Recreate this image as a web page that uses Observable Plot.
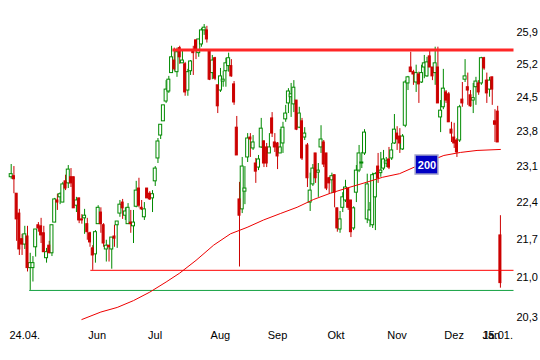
<!DOCTYPE html>
<html><head><meta charset="utf-8">
<script src="https://cdn.jsdelivr.net/npm/d3@7"></script>
<script src="https://cdn.jsdelivr.net/npm/@observablehq/plot@0.6"></script>
<style>html,body{margin:0;padding:0;background:#fff}</style>
</head><body><div id="chart"></div>
<script>
// Daily candles (index 0 = 24.04., last = 15.01.)
const open = [
22.88,22.90,22.56,22.18,21.70,21.60,21.75,21.17,21.17,21.55,
21.96,21.94,21.81,21.35,21.58,21.44,22.01,22.43,22.49,22.39,
22.80,22.76,22.88,22.88,22.33,22.47,22.07,22.09,21.98,21.81,
21.53,21.42,21.98,22.20,21.96,21.51,21.58,21.51,21.75,21.96,
22.18,22.39,22.14,21.98,22.01,21.94,22.31,22.66,22.29,22.11,
22.66,22.56,22.47,22.80,23.25,23.71,24.00,24.41,24.62,25.01,
25.28,25.03,25.55,25.22,25.20,24.64,25.05,25.50,25.72,25.44,
25.63,25.94,25.94,25.50,25.01,25.33,24.75,24.64,24.83,25.05,
25.16,25.16,24.77,23.87,22.45,22.26,22.60,23.27,23.67,23.45,
23.15,23.07,23.47,23.59,23.47,23.35,24.06,23.57,23.55,23.35,
23.55,24.04,24.37,24.50,24.35,24.43,23.87,24.00,23.67,23.51,
22.39,22.74,23.35,22.97,23.47,23.57,23.35,22.86,22.82,22.92,
22.28,21.88,22.29,22.43,22.66,22.43,21.90,22.58,23.01,23.15,
23.35,22.07,22.05,21.96,22.49,23.09,22.96,23.05,23.15,23.23,
23.25,23.55,23.75,23.69,23.43,23.91,24.79,25.13,25.03,24.81,
24.98,24.81,25.13,24.94,25.37,25.13,25.01,25.13,24.08,24.29,
24.60,24.56,23.83,23.67,23.61,23.61,24.45,24.87,24.71,24.54,
24.43,24.71,24.79,24.79,25.33,24.85,24.66,24.92,24.00,24.20,
21.77];
const close = [
22.94,22.84,22.07,21.51,21.60,21.79,21.17,21.26,21.26,21.88,
21.90,21.77,21.46,21.46,21.44,21.96,22.45,22.39,22.55,22.74,
22.66,23.03,22.76,22.28,22.43,22.05,22.05,22.14,21.83,21.64,
21.40,21.83,22.29,21.98,21.62,21.58,21.55,21.73,21.71,22.03,
22.35,22.28,22.22,22.29,21.98,22.01,22.62,22.33,22.26,22.26,
22.47,22.45,22.55,23.05,23.59,23.93,24.33,24.66,24.87,25.35,
25.09,25.46,25.35,25.28,24.60,25.03,25.26,25.44,25.50,25.74,
25.94,26.00,25.74,24.87,25.28,24.89,24.31,24.94,24.87,25.22,
25.33,24.94,24.39,23.31,22.14,23.09,22.66,23.65,23.63,23.57,
22.99,23.23,23.85,23.15,23.15,23.47,23.75,23.47,23.29,23.47,
23.87,24.16,24.62,24.56,24.70,23.83,24.16,23.25,23.75,22.86,
22.62,23.05,22.86,23.01,23.63,23.13,22.66,22.76,22.90,22.58,
21.90,22.07,22.49,22.68,22.29,21.83,22.28,23.01,23.35,23.17,
23.77,22.74,22.24,22.92,22.94,22.86,23.01,23.23,23.19,23.07,
23.41,23.83,23.63,23.55,23.69,24.81,24.92,25.03,24.98,25.01,
24.77,25.01,25.22,25.24,25.13,24.94,25.22,24.37,24.22,24.68,
24.43,23.98,23.75,23.55,23.37,24.29,24.37,24.94,24.64,24.31,
24.48,24.83,24.60,25.33,25.11,24.58,24.85,24.66,23.93,23.57,
20.90];
const high = [
23.13,23.09,22.56,22.26,21.79,21.94,21.94,21.44,21.38,21.88,
22.01,22.09,21.94,21.53,21.66,21.96,22.47,22.55,22.58,22.78,
22.92,23.11,23.05,22.88,22.49,22.47,22.16,22.26,22.09,21.83,
21.58,21.86,22.33,22.29,21.99,21.68,21.58,21.73,21.96,22.03,
22.43,22.45,22.29,22.37,22.24,22.24,22.80,22.86,22.43,22.39,
22.66,22.60,22.62,23.09,23.65,23.93,24.33,24.85,24.94,25.59,
25.55,25.55,25.59,25.50,25.24,25.09,25.28,25.59,25.72,25.74,
25.98,26.07,26.03,25.50,25.39,25.35,24.75,25.11,25.05,25.33,
25.44,25.30,24.83,24.10,22.78,23.27,23.09,23.75,23.75,23.71,
23.25,23.31,24.06,23.61,23.55,23.75,24.18,23.75,23.57,23.83,
23.98,24.33,24.68,24.79,24.85,24.43,24.29,24.06,23.87,23.55,
22.96,23.13,23.35,23.15,23.91,23.61,23.35,22.88,22.96,22.92,
22.28,22.22,22.58,22.82,22.66,22.43,22.31,23.11,23.51,23.37,
23.83,22.94,22.39,22.96,22.97,23.35,23.37,23.41,23.27,23.47,
23.55,24.14,23.89,23.85,23.73,24.85,24.94,25.46,25.07,25.18,
25.03,25.18,25.39,25.35,25.48,25.13,25.57,25.57,24.43,25.09,
24.64,24.60,23.98,23.96,23.65,24.33,24.81,25.30,25.01,24.64,
24.79,24.92,24.85,25.35,25.35,25.01,24.92,24.92,24.24,24.31,
22.14];
const low = [
22.84,22.56,21.66,21.40,21.40,21.51,21.10,20.77,20.92,21.37,
21.83,21.62,21.46,21.26,21.44,21.38,22.01,22.24,22.35,22.39,
22.62,22.66,22.68,22.28,22.20,21.99,21.98,21.79,21.68,21.55,
21.13,21.26,21.98,21.81,21.55,21.28,21.28,21.15,21.55,21.53,
22.11,22.07,22.05,21.98,21.81,21.62,22.29,22.29,22.24,22.05,
22.47,22.43,22.20,22.70,23.15,23.63,24.00,24.37,24.58,25.01,
25.05,24.92,25.20,25.22,24.52,24.52,24.96,24.96,25.30,25.35,
25.57,25.83,25.66,24.85,24.87,24.85,24.16,24.60,24.71,24.71,
25.03,24.92,24.33,23.31,21.19,22.18,22.35,23.17,23.27,23.41,
22.76,23.01,23.45,23.07,23.07,23.35,23.67,23.37,23.03,23.35,
23.35,23.98,24.16,24.08,24.18,23.81,23.85,23.21,23.61,22.68,
22.22,22.70,22.76,22.49,23.35,23.07,22.62,22.55,22.56,22.29,
21.83,21.81,22.20,22.39,22.24,21.73,21.86,22.39,22.97,23.05,
23.31,21.99,21.92,21.90,21.86,22.76,22.88,23.01,23.07,23.03,
23.21,23.53,23.41,23.35,23.41,23.87,24.64,25.03,24.75,24.60,
24.37,24.79,24.89,24.92,25.13,24.85,24.75,24.37,23.77,24.24,
24.37,23.98,23.57,23.45,23.27,23.57,24.29,24.81,24.33,24.29,
24.16,24.33,24.54,24.75,25.07,24.37,24.50,24.33,23.57,23.57,
20.81];

// 200-day moving average, read at points along the line
const maIdx = [26,33,39,45,51,57,62,68,74.5,80.7,86.8,92.9,99,105.2,111.3,117.5,123.6,130.6,136.7,142.9,148.4,159.2,165.3,171.4,180];
const maVal = [20.26,20.39,20.47,20.59,20.74,20.92,21.08,21.31,21.59,21.80,21.92,22.06,22.18,22.30,22.45,22.57,22.67,22.78,22.88,22.95,23.08,23.31,23.37,23.41,23.43];

// axis ticks
const xTickIdx = [0,29,51,74,95,117,139,160,174,174];
const xTickLabels = ["24.04.","Jun","Jul","Aug","Sep","Okt","Nov","Dez","Jan","15.01."];
const yTicks = [20.3,21.0,21.7,22.4,23.1,23.8,24.5,25.2,25.9];

// horizontal levels (resistance / support)
const levelValue = [25.51, 21.13, 20.77];
const levelFrom = [59.5, 29.3, 6.8];
const levelTo = 185;

// MA label
const maLabelIdx = 153, maLabelVal = 23.12, maLabelText = "200";

const RED = "#cc0000", GREEN = "#008a00";
const candles = open.map((o, i) => ({i, o, c: close[i], h: high[i], l: low[i], up: close[i] >= o}));
const ups = candles.filter(d => d.up), downs = candles.filter(d => !d.up);
const ma = maIdx.map((x, k) => ({x, v: maVal[k]}));
const xTicks = xTickIdx.map((i, k) => ({i, label: xTickLabels[k]}));
const levelStyles = [
  {stroke: "#ff2626", strokeWidth: 3},
  {stroke: "#ff0000", strokeWidth: 1},
  {stroke: "#12a040", strokeWidth: 1}
];
const fmt = d => d.toFixed(1).replace(".", ",");

const chart = Plot.plot({
  width: 540, height: 360,
  marginLeft: 0, marginTop: 0, marginRight: 26, marginBottom: 22,
  style: {fontFamily: "'Liberation Sans', Arial, sans-serif", fontSize: "11px", color: "#000", background: "#fff"},
  x: {domain: [0, 185], range: [10.7, 513.5], axis: null},
  y: {type: "log", domain: [20.3, 25.9], range: [316.7, 31.7], label: null},
  marks: [
    Plot.ruleX(candles, {x: "i", y1: "l", y2: "h", stroke: d => d.up ? GREEN : RED, strokeWidth: 1}),
    Plot.rect(ups, {x1: d => d.i - 0.55, x2: d => d.i + 0.55, y1: "o", y2: "c", fill: "#fff", stroke: GREEN, strokeWidth: 1}),
    Plot.rect(downs, {x1: d => d.i - 0.37, x2: d => d.i + 0.37, y1: "o", y2: "c", fill: RED, stroke: RED, strokeWidth: 1}),
    ...levelValue.map((v, k) => Plot.ruleY([k], {y: k => levelValue[k], x1: k => levelFrom[k], x2: () => levelTo, ...levelStyles[k]})),
    Plot.line(ma, {x: "x", y: "v", stroke: "#ee0000", strokeWidth: 1}),
    Plot.rect([0], {x1: () => maLabelIdx - 4.2, x2: () => maLabelIdx + 4.2, y1: () => maLabelVal / 1.0082, y2: () => maLabelVal * 1.0082, fill: "#0000c4", stroke: "#a8a8cc", strokeWidth: 1.5}),
    Plot.text([0], {x: () => maLabelIdx, y: () => maLabelVal, text: () => maLabelText, fill: "#fff", fontWeight: "bold", fontSize: 11}),
    Plot.axisY(yTicks, {anchor: "right", tickSize: 0, tickPadding: 2, tickFormat: fmt, fontSize: 11, label: null}),
    Plot.text(xTicks, {x: "i", text: "label", frameAnchor: "bottom", textAnchor: "start", dx: -1.7, fontSize: 11, fill: "#000"})
  ]
});
document.getElementById("chart").appendChild(chart);
</script>
</body></html>
